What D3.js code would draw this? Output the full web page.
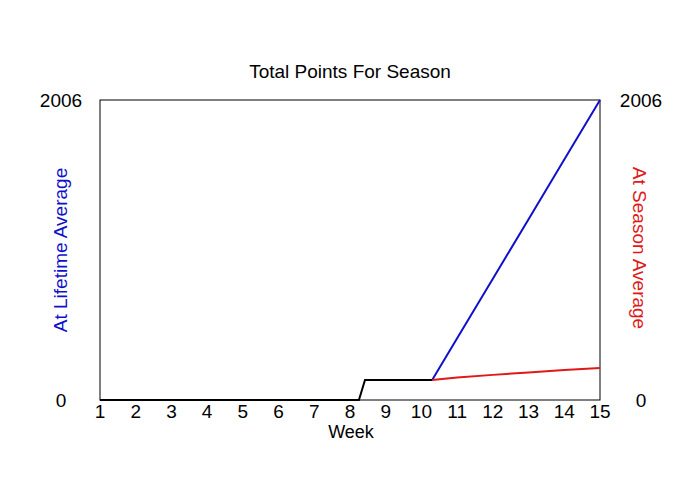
<!DOCTYPE html>
<html>
<head>
<meta charset="utf-8">
<script src="https://cdn.jsdelivr.net/npm/d3@7"></script>
<style>
  body { margin: 0; background: #fff; }
  text { font-family: "Liberation Sans", Arial, sans-serif; }
</style>
</head>
<body>
<div id="canvas"></div>
<script>
// values
const weeks = [1, 2, 3, 4, 5, 6, 7, 8, 9, 10, 11, 12, 13, 14, 15];
const yTicks = [0, 2006];

const actualWeeks = [1, 8.25, 8.42, 10.3];
const actualPoints = [0, 0, 134, 134];

const lifetimeWeeks = [10.3, 11, 12, 13, 14, 15];
const lifetimePoints = [134, 413, 811, 1209, 1608, 2006];

const seasonWeeks = [10.3, 11, 12, 13, 14, 15];
const seasonPoints = [134, 150, 168, 184, 200, 214];

const width = 700;
const height = 500;
const margin = { top: 100, left: 100, bottom: 100, right: 100 };
const iwidth = width - margin.left - margin.right;
const iheight = height - margin.top - margin.bottom;

const svg = d3.select("#canvas").append("svg")
  .attr("width", width)
  .attr("height", height);

const g = svg.append("g")
  .attr("transform", `translate(${margin.left},${margin.top})`);

const x = d3.scaleLinear().domain([1, 15]).range([0, iwidth]);
const y = d3.scaleLinear().domain([0, 2006]).range([iheight, 0]);

const line = d3.line().x((d) => x(d[0])).y((d) => y(d[1]));

const zip = (a, b) => a.map((v, i) => [v, b[i]]);

// plot frame
g.append("rect")
  .attr("width", iwidth)
  .attr("height", iheight)
  .attr("fill", "none")
  .attr("stroke", "#000")
  .attr("stroke-width", 1);

g.append("path")
  .datum(zip(lifetimeWeeks, lifetimePoints))
  .attr("d", line)
  .attr("fill", "none")
  .attr("stroke", "#1010cc")
  .attr("stroke-width", 2);

g.append("path")
  .datum(zip(seasonWeeks, seasonPoints))
  .attr("d", line)
  .attr("fill", "none")
  .attr("stroke", "#e01818")
  .attr("stroke-width", 2);

g.append("path")
  .datum(zip(actualWeeks, actualPoints))
  .attr("d", line)
  .attr("fill", "none")
  .attr("stroke", "#000")
  .attr("stroke-width", 2);

// x tick labels
g.append("g")
  .selectAll("text")
  .data(weeks)
  .enter()
  .append("text")
  .attr("x", (d) => x(d))
  .attr("y", iheight + 18)
  .attr("text-anchor", "middle")
  .attr("font-size", 19)
  .text((d) => d);

// y tick labels, both sides
[-39, iwidth + 41].forEach((px) => {
  g.append("g")
    .selectAll("text")
    .data(yTicks)
    .enter()
    .append("text")
    .attr("x", px)
    .attr("y", (d) => y(d))
    .attr("dy", "0.35em")
    .attr("text-anchor", "middle")
    .attr("font-size", 19)
    .text((d) => d);
});

svg.append("text")
  .attr("x", width / 2)
  .attr("y", 78)
  .attr("text-anchor", "middle")
  .attr("font-size", 19)
  .text("Total Points For Season");

svg.append("text")
  .attr("x", width / 2 + 1)
  .attr("y", 438)
  .attr("text-anchor", "middle")
  .attr("font-size", 18)
  .text("Week");

svg.append("text")
  .attr("transform", `translate(67,${margin.top + iheight / 2}) rotate(-90)`)
  .attr("text-anchor", "middle")
  .attr("font-size", 19)
  .attr("fill", "#1010cc")
  .text("At Lifetime Average");

svg.append("text")
  .attr("transform", `translate(633,${margin.top + iheight / 2 - 2}) rotate(90)`)
  .attr("text-anchor", "middle")
  .attr("font-size", 19)
  .attr("fill", "#e01818")
  .text("At Season Average");
</script>
</body>
</html>
